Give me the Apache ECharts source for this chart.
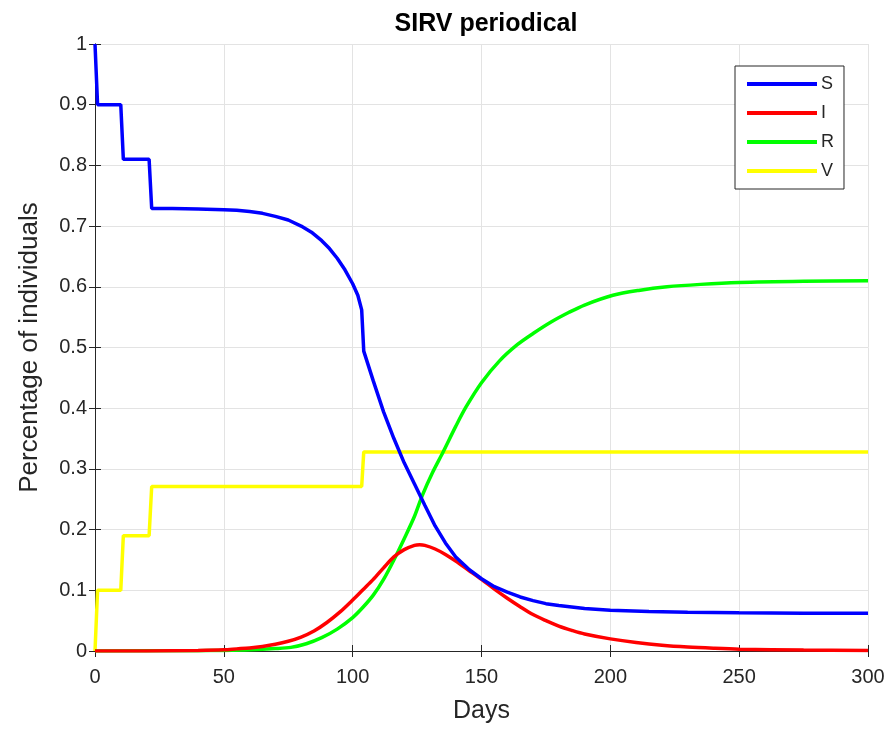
<!DOCTYPE html>
<html>
<head>
<meta charset="utf-8">
<script src="https://cdn.jsdelivr.net/npm/echarts@6/dist/echarts.min.js"></script>
<style>
html,body{margin:0;padding:0;background:#fff;}
#chart{width:891px;height:729px;}
</style>
</head>
<body>
<div id="chart"></div>
<script>
var titleText = 'SIRV periodical';
var xName = 'Days';
var yName = 'Percentage of individuals';
var seriesNames = ['S', 'I', 'R', 'V'];
var xTicks = [0, 50, 100, 150, 200, 250, 300];
var yTicks = [0, 0.1, 0.2, 0.3, 0.4, 0.5, 0.6, 0.7, 0.8, 0.9, 1];

var sDays = [0,1,10,11,21,22,30,40,50,55,60,65,70,75,80,84,88,91,94,97,100,102,103.5,104.3,108,112,116,120,124,128,132,136,140,145,150,155,160,165,170,175,180,190,200,215,230,250,275,300];
var sVals = [1,0.9,0.9,0.81,0.81,0.729,0.729,0.728,0.727,0.726,0.724,0.721,0.716,0.710,0.700,0.690,0.676,0.663,0.647,0.628,0.605,0.586,0.562,0.494,0.445,0.394,0.350,0.310,0.275,0.240,0.206,0.178,0.155,0.135,0.119,0.106,0.097,0.089,0.083,0.078,0.075,0.070,0.067,0.065,0.064,0.063,0.062,0.062];

var iDays = [0,20,40,50,55,60,65,70,75,80,85,90,95,100,104,108,112,116,120,124,126,128,132,136,140,145,150,155,160,165,170,175,180,185,190,200,210,220,230,240,250,275,300];
var iVals = [0,0.0002,0.001,0.002,0.0035,0.005,0.0075,0.011,0.016,0.023,0.033,0.047,0.064,0.084,0.101,0.118,0.137,0.155,0.167,0.174,0.175,0.174,0.168,0.159,0.148,0.133,0.118,0.102,0.087,0.073,0.060,0.050,0.041,0.034,0.028,0.020,0.014,0.0095,0.0065,0.0045,0.003,0.0015,0.001];

var rDays = [0,40,50,60,70,76,82,88,94,100,104,108,112,116,120,124,127,131,135,140,144,150,157,164,170,177,184,190,201,211,222,235,250,275,300];
var rVals = [0,0.0005,0.001,0.002,0.004,0.006,0.012,0.022,0.036,0.055,0.072,0.092,0.118,0.150,0.185,0.222,0.256,0.294,0.327,0.370,0.402,0.442,0.478,0.505,0.523,0.542,0.558,0.570,0.586,0.594,0.600,0.604,0.607,0.609,0.610];

var vDays = [0,1,10,11,21,22,103.5,104.3,300];
var vVals = [0,0.1,0.1,0.19,0.19,0.271,0.271,0.328,0.328];

var colors = ['#0000ff', '#ff0000', '#00ff00', '#ffff00'];

function zip(a, b) { return a.map(function (d, i) { return [d, b[i]]; }); }

var axisColor = '#262626';
var gridColor = '#e3e3e3';
var font = 'Liberation Sans, Arial, Helvetica, sans-serif';

var chart = echarts.init(document.getElementById('chart'), null, {renderer: 'canvas'});

function fmtY(v) { return String(Math.round(v * 10) / 10); }

var option = {
  animation: false,
  backgroundColor: '#ffffff',
  title: {
    text: titleText,
    left: 481, top: 7, textAlign: 'center',
    textStyle: {fontFamily: font, fontWeight: 'bold', fontSize: 25, color: '#000'}
  },
  grid: {left: 95, right: 23, top: 44, bottom: 75, containLabel: false},
  legend: {
    data: seriesNames.map(function (n, i) { return {name: n, icon: 'rect', itemStyle: {color: colors[i]}}; }),
    orient: 'vertical',
    left: 735, top: 66,
    itemWidth: 70, itemHeight: 4, itemGap: 11,
    padding: [9, 10, 9, 12],
    borderColor: axisColor, borderWidth: 1,
    backgroundColor: '#fff',
    textStyle: {fontFamily: font, fontSize: 18, color: axisColor, padding: [0, 0, 0, -1]}
  },
  xAxis: [{
    type: 'value', min: 0, max: 300, interval: 50,
    name: xName, nameLocation: 'middle', nameGap: 48,
    nameTextStyle: {fontFamily: font, fontSize: 25, color: axisColor},
    axisLine: {show: true, lineStyle: {color: axisColor, width: 1}},
    axisTick: {show: true, inside: true, length: 6, lineStyle: {color: axisColor}},
    axisLabel: {fontFamily: font, fontSize: 20, color: axisColor, margin: 16},
    splitLine: {show: true, lineStyle: {color: gridColor, width: 1}}
  }, {
    type: 'value', min: 0, max: 300, interval: 50, position: 'top',
    axisLine: {show: true, lineStyle: {color: axisColor, width: 1}},
    axisTick: {show: true, inside: true, length: 6, lineStyle: {color: axisColor}},
    axisLabel: {show: false}, splitLine: {show: false}
  }],
  yAxis: [{
    type: 'value', min: 0, max: 1, interval: 0.1,
    name: yName, nameLocation: 'middle', nameGap: 52,
    nameTextStyle: {fontFamily: font, fontSize: 26, color: axisColor},
    axisLine: {show: true, lineStyle: {color: axisColor, width: 1}},
    axisTick: {show: true, inside: true, length: 6, lineStyle: {color: axisColor}},
    axisLabel: {fontFamily: font, fontSize: 20, color: axisColor, margin: 8, formatter: fmtY},
    splitLine: {show: true, lineStyle: {color: gridColor, width: 1}}
  }, {
    type: 'value', min: 0, max: 1, interval: 0.1, position: 'right',
    axisLine: {show: true, lineStyle: {color: axisColor, width: 1}},
    axisTick: {show: true, inside: true, length: 6, lineStyle: {color: axisColor}},
    axisLabel: {show: false}, splitLine: {show: false}
  }],
  series: [
    {name: seriesNames[0], type: 'line', data: zip(sDays, sVals), smooth: false},
    {name: seriesNames[1], type: 'line', data: zip(iDays, iVals), smooth: 0.3},
    {name: seriesNames[2], type: 'line', data: zip(rDays, rVals), smooth: 0.3},
    {name: seriesNames[3], type: 'line', data: zip(vDays, vVals), smooth: false}
  ].map(function (s, i) {
    s.showSymbol = false; s.symbol = 'none';
    s.lineStyle = {color: colors[i], width: 3.5};
    s.itemStyle = {color: colors[i]};
    s.z = 10 - i;
    return s;
  })
};
chart.setOption(option);
</script>
</body>
</html>
